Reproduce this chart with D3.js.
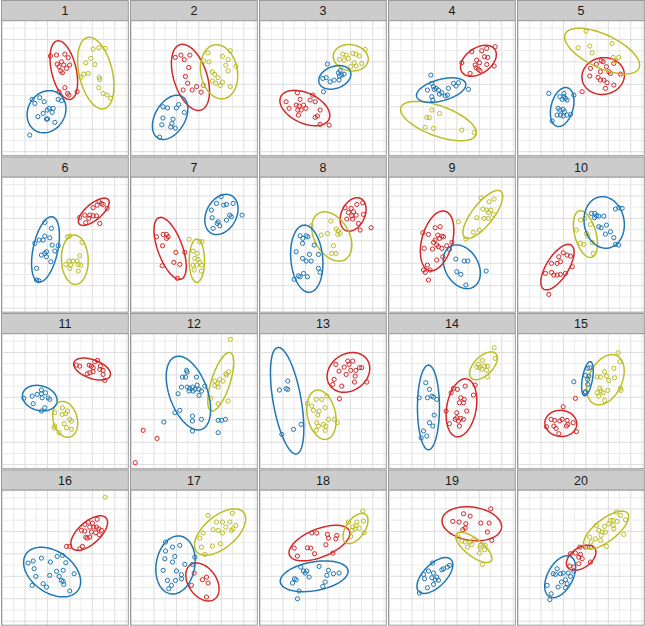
<!DOCTYPE html>
<html>
<head>
<meta charset="utf-8">
<script src="https://cdn.jsdelivr.net/npm/d3@7"></script>
<style>
  body { margin: 0; background: #fff; }
  svg { display: block; }
</style>
</head>
<body>
<svg id="chart" width="645" height="626"></svg>
<script>
// panel labels, 5 columns x 4 rows
const panelIds = d3.range(1, 21);
const gridBreaks = d3.range(0, 12);

// points per panel, [x, y]
const bluePts = [
  [[2.64,4.66],[2.88,4.30],[3.32,4.81],[3.71,4.45],[4.96,4.66],[5.25,4.54],[3.15,3.12],[3.62,3.41],[3.98,3.71],[4.15,3.86],[4.51,3.86],[4.42,3.50],[3.92,2.91],[4.01,2.91],[4.66,2.61],[2.43,1.48]],
  [[2.8,4.0],[3.2,3.9],[4.0,3.9],[4.2,4.2],[4.7,3.5],[2.8,3.0],[3.7,2.9],[3.6,2.5],[3.5,2.2],[3.9,2.1],[2.7,2.4],[2.5,1.3]],
  [[5.96,7.80],[5.55,6.53],[5.85,6.59],[6.20,6.23],[6.56,6.38],[6.94,7.03],[7.03,6.74],[7.24,6.82],[7.00,6.38],[7.45,6.91],[7.09,7.21],[5.61,5.34]],
  [[3.68,6.82],[3.38,5.49],[3.77,6.08],[3.92,5.79],[3.98,5.55],[4.15,5.64],[4.36,5.49],[4.66,5.25],[5.25,5.64],[5.70,6.08],[5.93,5.85],[6.14,6.14],[7.03,5.55],[3.77,4.90],[3.86,4.60],[4.45,5.13],[4.96,4.96],[5.16,5.04]],
  [[2.70,5.19],[4.93,5.04],[3.68,4.90],[4.04,4.90],[4.18,4.75],[4.33,4.60],[3.89,4.66],[3.53,3.86],[3.68,3.71],[3.98,3.77],[4.09,3.56],[3.44,3.26],[3.74,3.26],[3.98,3.18],[4.33,3.26],[4.63,3.32],[3.00,2.73],[4.04,5.19]],
  [[3.77,7.64],[4.36,7.11],[2.88,5.77],[3.26,6.07],[3.62,6.07],[3.77,6.42],[4.21,6.27],[4.42,5.62],[4.96,5.56],[4.66,5.09],[3.92,5.03],[3.77,4.88],[3.47,4.73],[3.92,4.58],[4.30,4.14],[3.03,3.55],[3.03,2.51],[3.23,2.45]],
  [[7.98,9.93],[7.57,9.33],[8.22,9.18],[8.46,9.24],[9.05,9.33],[7.12,8.74],[8.75,8.29],[8.90,8.15],[9.85,8.29],[8.46,7.85],[7.72,7.70],[7.63,7.55],[7.27,7.11],[7.86,7.34],[7.18,8.06]],
  [[3.53,6.45],[4.07,6.45],[4.21,6.36],[3.77,6.22],[3.74,5.77],[4.78,5.62],[3.18,5.03],[4.36,4.79],[3.74,4.44],[4.07,4.20],[4.51,4.20],[5.16,4.79],[5.16,3.55],[5.31,3.19],[3.83,3.10],[3.38,2.89],[3.00,2.57],[3.53,2.80],[4.18,2.80]],
  [[5.34,5.24],[5.91,4.38],[6.65,4.20],[6.97,4.20],[5.99,3.25],[6.35,3.01],[8.61,3.31],[6.80,2.07]],
  [[6.50,8.44],[6.80,8.44],[6.94,8.23],[6.77,8.06],[7.15,8.20],[7.60,8.20],[7.15,7.26],[7.36,7.17],[7.83,7.40],[8.64,8.83],[8.93,8.95],[9.23,8.89],[8.19,6.81],[7.74,6.60],[8.49,6.28],[8.64,5.68],[8.93,5.62]],
  [[3.47,6.65],[2.64,6.11],[3.09,6.26],[3.47,6.32],[3.83,6.41],[4.07,5.96],[4.21,5.82],[3.53,5.96],[1.90,5.91],[2.73,5.43],[3.77,5.07],[3.47,4.78]],
  [[4.90,8.40],[4.96,8.25],[4.54,7.80],[4.81,7.80],[5.79,7.80],[6.53,7.00],[4.45,6.91],[4.96,6.91],[5.19,6.80],[5.43,6.91],[5.64,6.71],[5.85,7.09],[6.02,6.71],[6.23,6.56],[5.13,6.56],[5.49,6.56],[4.15,6.32],[6.02,6.17],[4.30,4.84],[3.86,4.63],[2.88,3.80],[5.43,4.33],[5.43,3.89],[6.23,4.04],[7.72,3.95],[8.01,3.95],[8.37,4.04],[5.43,3.00],[7.72,2.85]],
  [[1.69,6.65],[2.28,6.77],[2.43,7.45],[2.43,6.71],[3.62,3.59],[2.94,3.15],[1.90,2.70]],
  [[3.23,7.30],[3.56,6.71],[2.64,5.96],[3.38,5.96],[3.77,6.11],[3.92,6.02],[4.21,5.82],[3.98,4.42],[3.56,3.74],[3.03,3.00],[3.86,3.44],[3.32,2.55],[2.82,2.40]],
  [[6.17,8.58],[6.35,8.64],[5.96,7.95],[6.26,7.89],[6.17,7.60],[6.17,7.15],[5.96,6.50],[5.91,6.41],[4.93,7.39]],
  [[2.73,5.36],[2.28,5.18],[3.47,5.62],[4.87,5.77],[5.34,5.86],[4.27,5.27],[5.64,5.21],[2.82,4.67],[2.97,3.99],[4.21,4.08],[4.81,4.44],[5.40,4.53],[6.38,4.23],[5.04,3.99],[5.25,3.64],[5.40,3.55],[5.46,3.28],[3.62,3.34],[3.92,3.04],[2.64,3.19],[5.99,2.69]],
  [[3.03,7.05],[3.65,6.60],[4.30,6.75],[3.03,6.25],[3.86,5.77],[2.97,5.56],[3.65,5.27],[5.64,5.71],[4.75,5.06],[5.43,5.06],[2.82,4.53],[4.01,4.47],[4.45,4.14],[4.45,3.78],[3.20,3.63],[3.92,3.63],[3.56,3.19],[3.32,2.89]],
  [[3.59,4.82],[3.83,4.47],[3.98,4.29],[4.12,4.47],[5.22,4.88],[6.05,4.53],[6.50,4.23],[7.00,4.29],[3.03,3.78],[3.18,3.69],[4.33,3.93],[5.91,4.08],[5.76,3.49],[5.55,3.10],[2.85,3.40],[3.44,2.69],[3.29,2.00]],
  [[3.83,5.18],[4.66,4.58],[4.81,4.67],[5.16,4.82],[5.34,4.97],[3.03,4.17],[3.47,4.47],[3.92,4.29],[3.77,3.87],[4.21,3.93],[4.07,3.69],[4.36,3.64],[3.92,3.28],[3.38,2.98],[2.67,2.51],[3.12,3.78]],
  [[3.44,4.67],[3.09,4.23],[3.29,4.17],[3.74,4.23],[3.98,4.29],[4.42,4.29],[4.63,3.99],[4.93,4.47],[4.18,3.69],[3.83,3.49],[4.33,3.34],[2.55,3.19],[3.53,3.04],[4.18,2.98],[2.91,2.44],[2.79,1.92]]
];

const redPts = [
  [[4.27,8.52],[4.81,8.61],[5.55,8.69],[5.85,8.37],[4.87,7.80],[5.25,8.01],[5.46,7.72],[5.04,7.57],[5.70,7.42],[5.99,7.72],[5.19,7.18],[5.34,7.03],[5.55,5.70],[5.04,5.34],[5.79,5.19],[5.91,5.04],[6.65,5.34]],
  [[3.9,8.4],[4.4,8.6],[4.7,8.2],[5.2,8.6],[5.1,7.5],[4.8,6.7],[5.0,6.1],[4.6,5.5],[5.4,5.5],[5.8,5.8],[6.2,5.3],[6.4,5.9]],
  [[2.28,4.45],[2.55,3.86],[3.29,5.25],[3.53,4.66],[3.18,4.15],[3.44,4.07],[3.83,4.15],[3.32,3.71],[3.62,3.71],[4.04,3.86],[3.38,3.26],[4.42,4.60],[4.66,5.04],[4.87,4.45],[5.31,3.71],[5.07,3.18],[4.87,3.06],[5.31,2.43],[6.11,2.37]],
  [[7.33,8.90],[8.22,8.99],[8.66,9.20],[9.41,9.35],[6.44,7.92],[7.77,8.16],[8.01,7.92],[7.63,7.72],[7.72,7.48],[7.92,7.33],[8.46,8.46],[8.75,8.40],[9.32,7.63],[8.66,7.77],[8.07,7.21],[7.18,6.97]],
  [[7.36,8.10],[7.54,8.01],[6.94,7.80],[7.83,7.57],[8.49,7.86],[6.41,7.42],[7.30,7.12],[8.04,7.12],[8.19,6.97],[9.08,6.91],[6.35,6.74],[7.09,6.62],[7.30,6.38],[7.60,6.38],[7.89,6.14],[8.49,5.93],[7.74,5.64],[5.67,5.34]],
  [[8.61,9.48],[8.81,9.33],[9.32,8.89],[8.07,8.95],[8.43,9.18],[6.88,8.09],[7.33,8.29],[7.77,8.29],[8.07,8.23],[8.37,8.23],[7.69,8.00],[7.42,7.62],[8.66,7.55],[8.96,9.24]],
  [[2.23,6.36],[2.82,6.57],[3.12,6.57],[3.26,6.36],[3.12,6.22],[2.76,5.56],[3.95,4.97],[4.75,4.97],[3.77,4.08],[4.30,3.90],[2.73,3.78],[4.09,2.66]],
  [[7.54,8.95],[8.07,8.89],[8.58,9.24],[9.11,9.39],[7.83,8.53],[8.28,8.59],[8.13,8.23],[8.52,8.29],[7.69,7.94],[8.22,7.94],[9.17,8.35],[8.72,7.55],[8.87,6.96],[9.85,7.17]],
  [[2.97,6.72],[3.47,6.57],[4.07,7.17],[4.51,7.26],[4.30,6.51],[4.66,6.42],[4.81,6.36],[4.45,6.22],[4.07,6.07],[3.92,5.86],[4.21,5.62],[4.36,5.47],[5.10,5.56],[5.55,5.86],[3.09,5.33],[4.66,5.33],[3.83,5.27],[4.75,4.58],[4.21,4.29],[3.38,3.84],[3.03,3.40],[3.18,3.19],[3.62,3.40],[3.47,2.51]],
  [[3.98,4.94],[4.33,4.73],[4.63,4.64],[3.59,4.58],[3.44,3.99],[2.94,3.99],[3.74,4.14],[2.40,3.10],[2.94,3.19],[3.15,2.95],[3.44,2.95],[3.74,3.01],[4.18,3.10],[4.78,3.69],[2.70,1.23]],
  [[6.59,8.87],[6.88,8.78],[7.72,8.87],[7.92,8.78],[8.46,9.29],[8.22,9.17],[8.72,8.78],[8.66,8.49],[8.96,8.40],[7.54,8.10],[7.77,8.19],[8.07,8.28],[8.96,8.04],[9.11,7.51],[8.07,8.64]],
  [[1.04,3.06],[2.28,2.34],[0.33,0.18]],
  [[6.71,8.93],[7.77,9.23],[8.22,9.23],[7.89,8.93],[7.45,8.69],[7.00,8.34],[7.63,8.04],[8.04,8.40],[8.49,8.40],[8.81,8.64],[9.02,8.64],[6.56,7.60],[6.44,7.15],[7.24,7.00],[8.43,7.89],[8.37,7.36],[9.47,7.36],[7.03,5.88]],
  [[5.70,6.80],[6.05,6.71],[6.74,7.00],[7.63,7.09],[5.49,6.41],[6.35,5.96],[6.65,5.82],[6.23,5.52],[6.59,5.52],[7.48,6.20],[5.04,4.78],[5.99,4.63],[6.88,4.78],[5.99,4.18],[6.35,4.12],[6.59,4.04],[6.14,3.89],[5.34,3.65],[6.23,3.44],[5.85,4.04]],
  [[3.98,5.16],[5.07,5.91],[2.91,4.04],[3.23,3.95],[3.68,3.89],[3.89,4.04],[4.33,3.95],[4.39,3.59],[4.27,3.44],[4.87,3.74],[2.49,3.38],[3.15,3.44],[3.35,3.23],[5.16,2.94],[3.59,2.76]],
  [[8.43,9.07],[7.63,8.83],[8.01,8.74],[7.33,8.62],[7.03,8.09],[7.33,8.03],[7.77,8.38],[8.13,8.38],[8.37,8.38],[8.58,8.23],[8.81,8.09],[8.61,7.70],[8.31,7.88],[7.92,7.94],[7.42,7.49],[7.54,7.40],[7.77,7.49],[7.12,6.66],[6.88,6.45],[5.70,6.66],[5.99,6.66]],
  [[5.58,4.29],[6.32,3.69],[6.68,3.93],[6.82,3.40],[5.34,3.19],[6.68,2.15]],
  [[4.57,7.86],[5.01,7.85],[5.96,7.73],[6.80,7.64],[6.05,7.40],[6.71,7.34],[5.82,6.81],[3.00,6.51],[4.18,6.54],[4.48,6.51],[4.81,6.01],[3.29,5.80],[6.44,6.07]],
  [[6.59,9.57],[7.18,9.36],[9.02,10.01],[5.64,8.89],[6.20,8.83],[6.80,8.68],[8.13,8.74],[8.87,8.74],[6.74,8.29],[6.53,8.15],[8.72,7.94],[9.11,7.20]],
  [[5.46,6.60],[5.96,6.60],[6.47,6.60],[4.63,6.01],[5.07,6.07],[5.52,5.95],[5.37,5.71],[5.67,5.56],[4.93,4.82],[5.37,5.12],[6.41,5.27],[4.57,4.91]]
];

const olivePts = [
  [[8.07,9.14],[8.58,9.26],[9.14,9.20],[7.86,8.31],[7.42,7.92],[8.22,7.77],[7.63,6.97],[7.24,6.91],[6.97,6.62],[8.61,6.62],[8.66,6.44],[8.58,5.70],[8.96,5.19],[9.32,5.04],[9.64,4.75]],
  [[6.8,8.8],[8.8,9.0],[6.4,8.1],[6.9,8.0],[8.1,8.5],[8.6,8.2],[8.4,7.7],[9.3,7.6],[8.6,7.2],[7.2,7.1],[7.4,6.9],[7.7,6.6],[8.1,6.2],[7.9,5.9],[7.2,6.3],[7.5,6.1],[8.8,5.8],[6.4,5.9]],
  [[7.33,8.69],[7.63,8.61],[8.22,8.75],[8.49,8.69],[8.81,8.52],[9.32,9.11],[7.03,8.22],[7.45,8.16],[7.83,8.31],[8.34,7.92],[9.02,7.86],[8.04,7.57],[8.52,7.63]],
  [[3.77,3.71],[4.45,3.41],[3.32,3.06],[3.56,3.03],[3.18,2.17],[3.92,2.08],[6.44,1.93],[7.54,1.69]],
  [[6.02,10.74],[6.35,9.41],[8.34,9.64],[5.31,9.26],[6.56,8.81],[8.43,8.40],[8.93,8.40],[8.64,8.10]],
  [[5.79,6.36],[5.99,6.42],[7.09,5.86],[5.64,3.90],[5.93,4.20],[6.29,4.20],[6.08,3.84],[6.74,3.90],[6.88,4.67],[6.65,4.20],[5.99,3.55],[6.74,3.31],[6.97,3.84]],
  [[5.13,6.13],[6.08,5.92],[6.29,5.92],[5.49,5.09],[5.85,4.88],[5.64,4.44],[5.93,4.35],[6.08,4.08],[5.49,3.84],[5.79,3.84],[6.23,3.84],[5.58,3.40],[6.23,3.31]],
  [[4.51,7.34],[6.26,7.76],[5.40,6.51],[5.96,6.66],[6.74,7.05],[6.94,6.87],[7.09,6.66],[6.88,6.57],[6.50,5.56],[6.35,4.88],[6.71,4.88]],
  [[8.16,9.84],[9.32,9.72],[8.87,9.48],[8.31,8.83],[8.66,8.74],[9.02,8.74],[8.81,8.53],[9.26,8.35],[8.43,8.00],[7.77,8.06],[8.81,8.00],[8.01,6.96],[7.48,6.75],[6.14,7.70],[6.80,6.16]],
  [[5.52,7.85],[5.91,8.00],[5.16,6.96],[6.41,7.46],[6.05,6.66],[6.17,6.42],[5.52,5.77],[5.82,5.68],[6.56,5.86],[6.65,4.88]],
  [[5.34,5.07],[5.79,4.78],[4.66,4.63],[5.31,4.48],[5.99,4.04],[6.14,3.89],[5.49,3.65],[4.66,3.44],[4.60,3.29],[5.70,3.29],[6.14,3.15],[5.04,2.85],[5.64,4.54]],
  [[8.81,11.16],[8.66,8.28],[8.40,8.10],[8.46,7.98],[7.86,7.60],[8.16,7.45],[7.42,7.45],[7.66,7.21],[7.42,7.06],[7.72,6.91],[7.06,5.91],[8.61,5.67],[7.72,5.43]],
  [[4.18,5.46],[4.96,5.82],[5.46,5.82],[5.91,6.11],[5.76,5.07],[4.72,4.84],[5.22,4.78],[4.57,5.22],[5.10,4.42],[6.05,4.04],[6.59,4.04],[6.85,3.74],[5.01,3.74],[5.16,3.44],[5.61,3.59],[5.82,3.44],[5.76,3.06],[4.96,3.06]],
  [[9.32,10.42],[9.41,9.47],[7.92,8.93],[8.28,9.29],[8.46,8.78],[8.72,8.78],[8.01,8.64],[8.22,8.49],[8.66,8.40],[7.77,8.69],[8.72,7.80]],
  [[8.87,9.97],[9.02,9.17],[7.66,8.28],[8.49,8.58],[7.30,7.80],[7.83,7.89],[8.55,7.74],[8.04,7.51],[7.00,7.83],[7.24,6.80],[7.36,6.56],[7.00,6.41],[7.54,6.41],[7.95,6.62],[9.08,6.80],[9.14,6.62],[7.66,5.73],[7.15,6.11]],
  [[9.14,11.05]],
  [[6.82,9.42],[7.57,8.83],[8.10,8.83],[8.75,8.83],[8.99,9.63],[9.29,8.53],[9.05,8.23],[8.90,8.09],[8.40,8.38],[7.72,8.09],[7.27,8.15],[8.10,7.85],[6.38,7.85],[6.08,7.40],[7.92,6.90],[7.21,6.69],[6.23,6.60],[6.53,5.95]],
  [[9.11,9.81],[7.83,8.83],[8.22,8.38],[8.52,8.53],[8.58,8.83],[9.17,8.92],[8.43,8.23],[8.13,8.09],[8.81,8.29],[8.04,7.55],[9.23,7.88]],
  [[6.14,7.49],[6.44,7.14],[6.74,7.05],[7.18,7.05],[7.48,7.25],[7.33,6.84],[6.94,6.60],[8.07,6.75],[8.07,6.54],[8.46,6.36],[8.01,6.07],[8.28,5.06],[8.52,6.75]],
  [[8.72,9.72],[9.08,9.42],[8.19,8.98],[8.43,8.98],[8.78,8.89],[9.53,9.04],[8.04,8.68],[8.43,8.53],[7.66,8.44],[6.94,8.53],[7.15,8.09],[7.45,7.94],[7.36,7.64],[7.74,7.94],[6.35,7.49],[6.85,7.34],[7.30,7.20],[7.83,6.66],[6.47,7.05],[9.38,7.73],[8.49,8.23]]
];

// fitted ellipses per panel: [cx, cy, semi-major, semi-minor, angle deg]
const blueEll = [
  [3.92,3.56,1.95,1.65,60],[3.44,3.06,2.14,1.34,60],[6.62,6.62,1.48,0.98,20],[4.60,5.49,2.26,0.95,15],[3.89,3.98,1.78,0.98,75],
  [3.83,5.24,2.97,1.10,78],[8.01,8.35,1.90,1.34,62],[4.12,4.41,3.00,1.42,95],[6.44,3.69,2.08,1.48,120],[7.63,7.64,2.31,1.78,100],
  [3.32,5.93,1.57,1.10,-15],[5.07,6.38,3.44,1.69,110],[2.37,5.70,4.81,1.25,100],[3.47,5.10,3.77,0.98,90],[6.14,7.66,1.54,0.45,80],
  [4.42,4.38,2.82,1.84,-35],[3.92,5.01,2.61,1.72,80],[4.78,4.00,3.06,1.28,10],[4.04,4.07,2.02,1.01,45],[3.71,3.96,2.02,1.13,62]
];
const redEll = [
  [5.46,7.27,2.67,1.10,103],[5.25,6.62,3.06,1.48,108],[3.95,3.89,2.37,1.34,-25],[7.92,8.10,1.78,1.13,35],[7.54,6.74,1.90,1.63,10],
  [8.13,8.59,1.69,0.71,40],[3.44,5.33,2.91,1.10,110],[8.25,8.35,1.57,1.04,65],[4.24,6.00,2.73,1.36,75],[3.47,3.66,2.31,0.98,58],
  [7.98,8.52,1.72,0.83,-20],null,[7.83,8.22,2.02,1.63,35],[6.41,5.07,2.61,1.31,80],[3.77,3.68,1.42,1.16,-5],
  [7.72,7.85,2.02,0.98,42],[6.32,3.49,1.87,1.25,125],[5.25,6.96,2.88,1.25,22],[7.33,8.68,2.67,1.48,-8],[5.58,5.65,1.48,0.89,35]
];
const oliveEll = [
  [8.31,7.00,3.26,1.48,103],[7.80,7.12,2.43,1.63,100],[8.04,8.37,1.57,1.16,-10],[4.36,2.73,3.56,1.34,-20],[7.45,8.96,3.62,1.48,-25],
  [6.44,4.32,2.20,1.19,92],[5.82,4.23,1.93,0.68,90],[6.35,6.39,2.37,1.54,120],[8.31,8.35,2.61,0.95,52],[5.96,6.60,2.14,0.95,105],
  [5.58,4.04,1.63,1.07,105],[7.95,7.39,2.73,0.83,72],[5.43,4.45,2.23,1.25,102],[8.37,8.81,1.54,0.83,45],[7.74,7.57,2.37,1.48,65],
  null,[7.89,7.94,2.73,1.42,40],[8.46,8.26,1.54,0.83,55],[7.51,6.57,1.96,0.77,-38],[7.80,8.12,2.43,0.98,38]
];

const series = [
  {pts: redPts, ell: redEll, color: "#d62728"},
  {pts: olivePts, ell: oliveEll, color: "#bcbd22"},
  {pts: bluePts, ell: blueEll, color: "#1f77b4"}
];

// layout
const nCol = 5;
const cellW = 129, cellH = 156.5;
const panelW = 126.8, panelH = 135, stripH = 20.2;

const x = d3.scaleLinear().domain([0, 11]).range([1, 124.5]);
const y = d3.scaleLinear().domain([0, 11]).range([131, 7.5]);

const svg = d3.select("#chart");

const ellipseLine = d3.line().x(d => x(d[0])).y(d => y(d[1]));
function ellipsePoints(e) {
  const [cx, cy, a, b, deg] = e;
  const th = deg * Math.PI / 180;
  return d3.range(0, 101).map(i => {
    const t = i / 100 * 2 * Math.PI;
    const dx = a * Math.cos(t), dy = b * Math.sin(t);
    return [cx + dx * Math.cos(th) - dy * Math.sin(th), cy + dx * Math.sin(th) + dy * Math.cos(th)];
  });
}

panelIds.forEach((id, i) => {
  const c = i % nCol, r = Math.floor(i / nCol);
  const left = 1.5 + c * cellW;
  const top = 0.5 + r * cellH;

  // strip
  svg.append("rect")
    .attr("x", left).attr("y", top)
    .attr("width", panelW).attr("height", stripH)
    .attr("fill", "#cccccc").attr("stroke", "#9a9a9a").attr("stroke-width", 1);
  svg.append("text")
    .attr("x", left + panelW / 2).attr("y", top + stripH / 2 + 4.5)
    .attr("text-anchor", "middle")
    .attr("font-family", "Liberation Sans, Arial, sans-serif")
    .attr("font-size", 12.5).attr("fill", "#1a1a1a")
    .text(id);

  const g = svg.append("g").attr("transform", `translate(${left},${top + stripH})`);
  g.append("rect").attr("width", panelW).attr("height", panelH).attr("fill", "#fff");

  // grid
  g.selectAll(".gx").data(gridBreaks).enter().append("line")
    .attr("x1", d => x(d)).attr("x2", d => x(d))
    .attr("y1", 0).attr("y2", panelH)
    .attr("stroke", d => d % 2 === 0 ? "#dcdcdc" : "#ebebeb").attr("stroke-width", 1);
  g.selectAll(".gy").data(gridBreaks).enter().append("line")
    .attr("y1", d => y(d)).attr("y2", d => y(d))
    .attr("x1", 0).attr("x2", panelW)
    .attr("stroke", d => d % 2 === 0 ? "#dcdcdc" : "#ebebeb").attr("stroke-width", 1);

  series.forEach(s => {
    const e = s.ell[i];
    if (e) {
      g.append("path")
        .attr("d", ellipseLine(ellipsePoints(e)))
        .attr("fill", "none").attr("stroke", s.color).attr("stroke-width", 1.5);
    }
    g.selectAll(null).data(s.pts[i]).enter().append("circle")
      .attr("cx", d => x(d[0])).attr("cy", d => y(d[1]))
      .attr("r", 2.1)
      .attr("fill", "none").attr("stroke", s.color).attr("stroke-width", 1);
  });

  g.append("rect").attr("width", panelW).attr("height", panelH)
    .attr("fill", "none").attr("stroke", "#9a9a9a").attr("stroke-width", 1);
});
</script>
</body>
</html>
